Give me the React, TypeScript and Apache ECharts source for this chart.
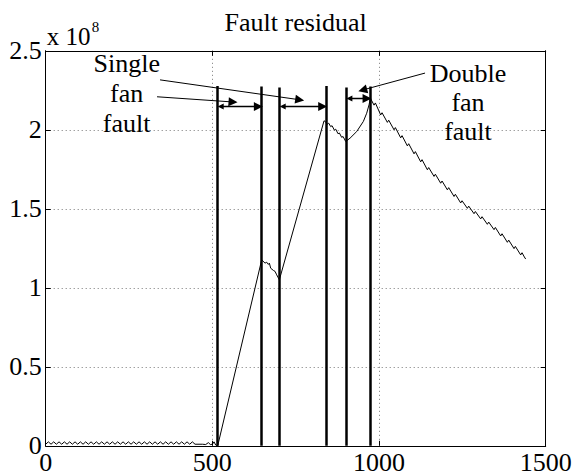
import React, { useEffect, useRef } from "react";
import * as echarts from "echarts";

// ---- data (x: sample index, y: residual in units of 1e8) ----
const xTicks = [0, 500, 1000, 1500];
const yTicks = [0, 0.5, 1, 1.5, 2, 2.5];

// pre-fault noise near zero
const preFault: number[][] = [
  [0, 0.01], [8, 0.025], [16, 0.01], [24, 0.025], [32, 0.01], [40, 0.025], [48, 0.01], [56, 0.025],
  [64, 0.01], [72, 0.025], [80, 0.01], [88, 0.025], [96, 0.01], [104, 0.025], [112, 0.01], [120, 0.025],
  [128, 0.01], [136, 0.025], [144, 0.01], [152, 0.025], [160, 0.01], [168, 0.025], [176, 0.01], [184, 0.025],
  [192, 0.01], [200, 0.025], [208, 0.01], [216, 0.025], [224, 0.01], [232, 0.025], [240, 0.01], [248, 0.025],
  [256, 0.01], [264, 0.025], [272, 0.01], [280, 0.025], [288, 0.01], [296, 0.025], [304, 0.01], [312, 0.025],
  [320, 0.01], [328, 0.025], [336, 0.01], [344, 0.025], [352, 0.01], [360, 0.025], [368, 0.01], [376, 0.025],
  [384, 0.01], [392, 0.025], [400, 0.01], [408, 0.025], [416, 0.01], [424, 0.025], [432, 0.01], [440, 0.025],
  [448, 0.01], [470, 0.01], [480, 0.008], [488, 0.02], [494, 0.008], [500, 0.01], [505, 0.025], [510, 0.005],
  [516, 0],
];
// first single fan fault: ramp then wiggly decline
const firstFault: number[][] = [
  [648, 1.177], [658, 1.156], [663, 1.162], [668, 1.148], [671, 1.156], [675, 1.124],
  [683, 1.11], [688, 1.104], [693, 1.082], [701, 1.051],
];
// second single fan fault
const secondFault: number[][] = [
  [835, 2.057], [840, 2.05], [845, 2.035], [849, 2.042], [855, 2.02], [859, 2.026], [866, 1.998],
  [870, 2.004], [877, 1.975], [881, 1.98], [888, 1.952], [892, 1.958], [900, 1.926],
];
// double fan fault rise
const doubleFault: number[][] = [
  [913, 1.947], [933, 1.989], [953, 2.053], [963, 2.105], [970, 2.158], [974, 2.2],
];
// recovery decay
const decay: number[][] = [
  [985, 2.156], [989, 2.17], [1005, 2.094], [1009, 2.108], [1025, 2.047], [1029, 2.061],
  [1045, 2.0], [1049, 2.014], [1065, 1.949], [1069, 1.963], [1085, 1.898], [1089, 1.912],
  [1105, 1.848], [1109, 1.862], [1125, 1.797], [1129, 1.811], [1145, 1.747], [1149, 1.761],
  [1165, 1.705], [1169, 1.719], [1185, 1.662], [1189, 1.676], [1205, 1.62], [1209, 1.634],
  [1225, 1.578], [1229, 1.592], [1245, 1.537], [1249, 1.551], [1265, 1.503], [1269, 1.517],
  [1285, 1.469], [1289, 1.483], [1305, 1.436], [1309, 1.45], [1325, 1.402], [1329, 1.416],
  [1345, 1.368], [1349, 1.382], [1365, 1.328], [1369, 1.342], [1385, 1.288], [1389, 1.302],
  [1405, 1.248], [1409, 1.262], [1425, 1.208], [1429, 1.222], [1436, 1.195], [1440, 1.182],
];

// vertical fault marker bars
const barX = [515, 648, 701, 841, 901, 974];
const barTop = [2.278, 2.274, 2.268, 2.278, 2.268, 2.274];
// double-headed interval arrows [x1, x2, y]
const intervalArrows = [
  [525, 638, 2.147],
  [711, 831, 2.147],
  [911, 964, 2.198],
];
// pointer arrows [x1, y1, x2, y2]
const pointerArrows = [
  [343, 2.316, 762, 2.19],
  [334, 2.209, 562, 2.176],
  [1138, 2.359, 951, 2.252],
];

const FONT = "Liberation Serif, serif";

function txt(text: string, x: number, y: number, size: number, align = "center") {
  return {
    type: "text",
    x,
    y,
    z: 100,
    style: {
      text,
      fill: "#000",
      fontSize: size,
      fontFamily: FONT,
      align,
      textAlign: align,
      verticalAlign: "middle",
      textVerticalAlign: "middle",
    },
  };
}

export default function App() {
  const ref = useRef<HTMLDivElement>(null);
  useEffect(() => {
    if (!ref.current) return;
    const chart = echarts.init(ref.current, undefined, { renderer: "svg" });
    const signal = [...preFault, ...firstFault, ...secondFault, ...doubleFault, ...decay];
    const axisCommon = {
      type: "value",
      axisLine: { show: true, onZero: false, lineStyle: { color: "#000", width: 1 } },
      axisTick: { show: true, inside: true, length: 5, lineStyle: { color: "#000", width: 1 } },
    };
    const fmt = (v: number) => String(v);
    chart.setOption({
      animation: false,
      backgroundColor: "#fff",
      textStyle: { fontFamily: FONT },
      grid: { left: 45.7, top: 50.8, width: 500, height: 395, containLabel: false },
      xAxis: [
        {
          ...axisCommon,
          position: "bottom",
          min: xTicks[0],
          max: xTicks[xTicks.length - 1],
          interval: 500,
          axisLabel: { color: "#000", fontSize: 26, fontFamily: FONT, margin: 4, formatter: fmt },
          splitLine: { show: true, lineStyle: { color: "#777", type: [1, 3], width: 1 } },
        },
        {
          ...axisCommon,
          position: "top",
          min: xTicks[0],
          max: xTicks[xTicks.length - 1],
          interval: 500,
          axisLabel: { show: false },
          splitLine: { show: false },
        },
      ],
      yAxis: [
        {
          ...axisCommon,
          position: "left",
          min: yTicks[0],
          max: yTicks[yTicks.length - 1],
          interval: 0.5,
          axisLabel: { color: "#000", fontSize: 26, fontFamily: FONT, margin: 4, formatter: fmt },
          splitLine: { show: true, lineStyle: { color: "#777", type: [1, 3], width: 1 } },
        },
        {
          ...axisCommon,
          position: "right",
          min: yTicks[0],
          max: yTicks[yTicks.length - 1],
          interval: 0.5,
          axisLabel: { show: false },
          splitLine: { show: false },
        },
      ],
      series: [
        {
          type: "line",
          data: signal,
          showSymbol: false,
          symbol: "none",
          lineStyle: { color: "#000", width: 1 },
          z: 3,
        },
        {
          type: "lines",
          coordinateSystem: "cartesian2d",
          symbol: "none",
          lineStyle: { color: "#000", width: 2.5, opacity: 1 },
          data: barX.map((x, i) => ({ coords: [[x, 0], [x, barTop[i]]] })),
          z: 4,
        },
        {
          type: "lines",
          coordinateSystem: "cartesian2d",
          symbol: ["triangle", "triangle"],
          symbolSize: [6, 9],
          lineStyle: { color: "#000", width: 1.3, opacity: 1 },
          data: intervalArrows.map((a) => ({ coords: [[a[0], a[2]], [a[1], a[2]]] })),
          z: 5,
        },
        {
          type: "lines",
          coordinateSystem: "cartesian2d",
          symbol: ["none", "triangle"],
          symbolSize: [6, 9],
          lineStyle: { color: "#000", width: 1, opacity: 1 },
          data: pointerArrows.map((a) => ({ coords: [[a[0], a[1]], [a[2], a[3]]] })),
          z: 5,
        },
      ],
      graphic: [
        txt("Fault residual", 295.7, 22, 26),
        txt("x 10", 46.7, 36.6, 25, "left"),
        txt("8", 91.7, 26.6, 15, "left"),
        txt("Single", 126.7, 63.7, 26),
        txt("fan", 126.7, 93.7, 26),
        txt("fault", 126.7, 123.7, 26),
        txt("Double", 468, 73.2, 26),
        txt("fan", 468, 102.2, 26),
        txt("fault", 468, 131.2, 26),
      ],
    });
    return () => chart.dispose();
  }, []);
  return (
    <div
      ref={ref}
      style={{ position: "absolute", left: 0, top: 0, width: 575, height: 476 }}
    />
  );
}
